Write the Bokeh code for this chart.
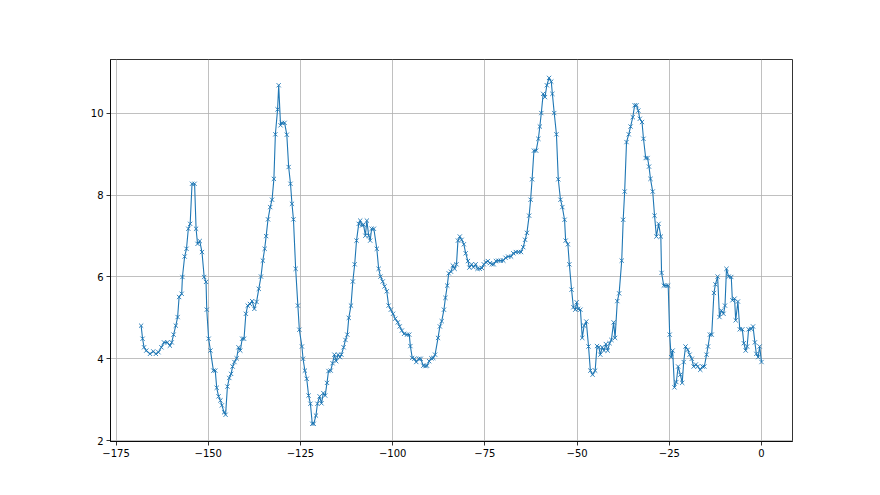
from bokeh.plotting import figure
from bokeh.models import FixedTicker, Range1d
from bokeh.embed import file_html
from bokeh.resources import INLINE

xs = [-168.2, -167.8, -167.4, -166.8, -165.8, -164.9, -164.2, -163.5, -162.7, -162.0,
      -161.1, -160.4, -159.9, -159.4, -158.8, -158.3, -157.9, -157.2, -157.0, -156.4,
      -155.9, -155.4, -154.9, -154.4, -153.7, -153.3, -152.9, -152.3, -151.7, -151.1,
      -150.6, -150.4, -149.9, -149.4, -148.6, -148.1, -147.7, -147.2, -146.7, -146.3,
      -145.7, -145.3, -144.8, -144.3, -143.8, -143.4, -142.9, -142.3, -141.8, -141.3,
      -140.8, -140.3, -139.8, -139.3, -138.7, -138.1, -137.5, -136.9, -136.3, -135.7,
      -135.2, -134.7, -134.3, -133.8, -133.2, -132.7, -132.2, -131.8, -131.2, -130.9,
      -130.4, -130.0, -129.3, -128.7, -128.2, -127.7, -127.3, -126.9, -126.3, -125.7,
      -125.3, -124.6, -124.3, -123.8, -123.3, -122.8, -122.3, -121.8, -121.4, -120.8,
      -120.4, -119.8, -119.3, -118.8, -118.3, -117.8, -117.4, -116.8, -116.3, -115.8,
      -115.3, -114.8, -114.3, -113.9, -113.3, -112.8, -112.3, -111.9, -111.3, -110.8,
      -110.3, -109.8, -109.2, -108.8, -108.3, -107.9, -107.4, -107.0, -106.5, -106.1,
      -105.7, -105.1, -104.3, -103.8, -103.3, -102.7, -102.2, -101.6, -101.1, -100.5,
      -99.9, -99.3, -98.6, -98.1, -97.5, -96.9, -96.1, -95.5, -95.2, -94.7,
      -94.1, -93.6, -92.9, -92.4, -91.7, -91.1, -90.7, -90.1, -89.5, -89.0,
      -88.5, -87.7, -87.2, -86.7, -86.1, -85.7, -85.2, -84.8, -84.2, -83.7,
      -83.2, -82.7, -82.3, -81.8, -81.3, -80.7, -80.2, -79.6, -79.2, -78.6,
      -78.1, -77.5, -77.0, -76.4, -75.8, -75.3, -74.7, -74.2, -73.6, -73.1,
      -72.6, -72.0, -71.4, -70.7, -70.0, -69.4, -68.7, -67.9, -67.3, -66.6,
      -65.9, -65.2, -64.6, -64.1, -63.6, -63.0, -62.6, -62.2, -61.7, -61.1,
      -60.5, -60.1, -59.7, -59.2, -58.7, -58.2, -57.6, -57.0, -56.7, -56.2,
      -55.6, -55.1, -54.5, -54.0, -53.4, -53.1, -52.5, -52.1, -51.5, -51.0,
      -50.5, -50.1, -49.7, -49.1, -48.6, -48.1, -47.5, -46.9, -46.4, -45.8,
      -45.1, -44.6, -44.1, -43.7, -43.2, -42.7, -42.2, -41.7, -41.2, -40.7,
      -40.1, -39.7, -39.1, -38.6, -37.9, -37.5, -37.1, -36.6, -36.0, -35.5,
      -34.9, -34.4, -33.9, -33.4, -33.0, -32.4, -32.0, -31.4, -30.9, -30.5,
      -30.1, -29.5, -29.0, -28.5, -27.9, -27.3, -27.1, -26.5, -25.9, -25.3,
      -24.9, -24.5, -24.1, -23.6, -23.1, -22.6, -22.0, -21.5, -21.1, -20.6,
      -20.0, -19.5, -18.9, -18.4, -17.8, -17.3, -16.6, -16.0, -15.5, -14.9,
      -14.5, -14.0, -13.5, -12.9, -12.5, -11.9, -11.4, -10.9, -10.3, -9.9,
      -9.5, -8.9, -8.2, -7.9, -7.3, -7.0, -6.4, -5.9, -5.2, -4.8,
      -4.3, -3.9, -3.5, -2.8, -2.3, -1.8, -1.4, -0.9, -0.5, 0.0]

ys = [4.81, 4.49, 4.28, 4.20, 4.12, 4.18, 4.12, 4.16, 4.28, 4.40,
      4.40, 4.32, 4.40, 4.59, 4.81, 5.02, 5.51, 5.59, 6.00, 6.50,
      6.69, 7.18, 7.30, 8.28, 8.28, 7.18, 6.81, 6.88, 6.61, 6.00,
      5.88, 5.20, 4.49, 4.20, 3.71, 3.71, 3.29, 3.08, 2.98, 2.86,
      2.69, 2.63, 3.32, 3.53, 3.63, 3.81, 3.92, 4.01, 4.28, 4.20,
      4.49, 4.49, 5.10, 5.30, 5.34, 5.41, 5.22, 5.39, 5.71, 6.01,
      6.40, 6.69, 7.00, 7.41, 7.71, 7.89, 8.40, 9.49, 10.10, 10.69,
      9.71, 9.77, 9.77, 9.48, 8.69, 8.28, 7.79, 7.41, 6.20, 5.30,
      4.71, 4.30, 4.00, 3.71, 3.51, 3.10, 2.90, 2.41, 2.41, 2.61,
      2.90, 3.08, 2.91, 3.16, 3.10, 3.41, 3.70, 3.71, 3.89, 4.10,
      3.94, 4.10, 4.04, 4.10, 4.28, 4.46, 4.59, 5.00, 5.30, 5.89,
      6.31, 6.89, 7.30, 7.38, 7.26, 7.28, 7.01, 7.38, 7.01, 6.89,
      7.18, 7.18, 6.69, 6.20, 6.01, 5.89, 5.77, 5.65, 5.30, 5.20,
      5.10, 4.98, 4.89, 4.79, 4.69, 4.61, 4.59, 4.59, 4.31, 4.02,
      4.00, 3.92, 4.00, 4.00, 3.83, 3.82, 3.83, 3.94, 4.01, 4.02,
      4.10, 4.51, 4.79, 4.92, 5.20, 5.49, 5.79, 6.09, 6.13, 6.28,
      6.20, 6.31, 6.89, 6.99, 6.91, 6.80, 6.58, 6.39, 6.23, 6.31,
      6.24, 6.31, 6.20, 6.20, 6.22, 6.31, 6.36, 6.39, 6.34, 6.31,
      6.31, 6.39, 6.40, 6.40, 6.40, 6.47, 6.50, 6.50, 6.58, 6.61,
      6.61, 6.61, 6.73, 6.91, 7.08, 7.50, 7.89, 8.39, 9.09, 9.09,
      9.38, 9.68, 10.01, 10.48, 10.40, 10.69, 10.87, 10.78, 10.48, 10.01,
      9.49, 8.39, 7.89, 7.71, 7.40, 6.89, 6.80, 6.31, 5.69, 5.26,
      5.20, 5.38, 5.22, 5.20, 4.51, 4.81, 4.91, 4.30, 3.71, 3.61,
      3.71, 4.31, 4.28, 4.10, 4.28, 4.20, 4.36, 4.20, 4.38, 4.46,
      4.89, 4.51, 5.41, 5.60, 6.40, 7.40, 8.09, 9.30, 9.49, 9.68,
      9.91, 10.20, 10.20, 10.07, 9.87, 9.79, 9.38, 8.91, 8.91, 8.70,
      8.40, 8.09, 7.50, 6.99, 7.30, 6.99, 6.10, 5.79, 5.79, 5.79,
      4.59, 4.04, 4.20, 3.30, 3.43, 3.81, 3.61, 3.41, 3.92, 4.30,
      4.22, 4.10, 4.00, 3.81, 3.86, 3.81, 3.73, 3.81, 3.81, 4.10,
      4.30, 4.59, 4.59, 5.61, 5.82, 6.01, 5.02, 5.18, 5.10, 5.30,
      6.20, 6.01, 6.00, 5.43, 5.47, 4.94, 5.40, 4.72, 4.72, 4.38,
      4.20, 4.30, 4.72, 4.73, 4.79, 4.40, 4.12, 4.04, 4.30, 3.92]

x_ticks = [-175, -150, -125, -100, -75, -50, -25, 0]
x_tick_labels = ["\u2212175", "\u2212150", "\u2212125", "\u2212100", "\u221275", "\u221250", "\u221225", "0"]
y_ticks = [2, 4, 6, 8, 10]
y_tick_labels = ["2", "4", "6", "8", "10"]

color = "#1f77b4"

p = figure(width=872, height=487, output_backend="svg", toolbar_location=None,
           x_range=Range1d(-176.5, 8.4), y_range=Range1d(1.976, 11.32),
           min_border_left=110, min_border_right=80, min_border_top=59, min_border_bottom=46)

p.line(xs, ys, line_color=color, line_width=1.1)
p.scatter(xs, ys, marker="x", size=6, line_color=color, line_width=0.9)

p.background_fill_color = "white"
p.border_fill_color = "white"
p.outline_line_color = "black"
p.outline_line_width = 0.8

for ax in (p.xaxis[0], p.yaxis[0]):
    ax.axis_line_color = "black"
    ax.axis_line_width = 0.8
    ax.major_tick_line_color = "black"
    ax.major_tick_line_width = 0.8
    ax.major_tick_out = 4
    ax.major_tick_in = 0
    ax.minor_tick_line_color = None
    ax.major_label_text_font = "DejaVu Sans"
    ax.major_label_text_font_size = "10px"
    ax.major_label_text_color = "black"
    ax.major_label_standoff = 3

p.xaxis.ticker = FixedTicker(ticks=x_ticks)
p.yaxis.ticker = FixedTicker(ticks=y_ticks)
p.xaxis.major_label_overrides = {t: l for t, l in zip(x_ticks, x_tick_labels)}
p.yaxis.major_label_overrides = {t: l for t, l in zip(y_ticks, y_tick_labels)}

p.xgrid.grid_line_color = "#b0b0b0"
p.ygrid.grid_line_color = "#b0b0b0"
p.xgrid.grid_line_width = 0.8
p.ygrid.grid_line_width = 0.8

open("out.html", "w").write(file_html(p, INLINE))
